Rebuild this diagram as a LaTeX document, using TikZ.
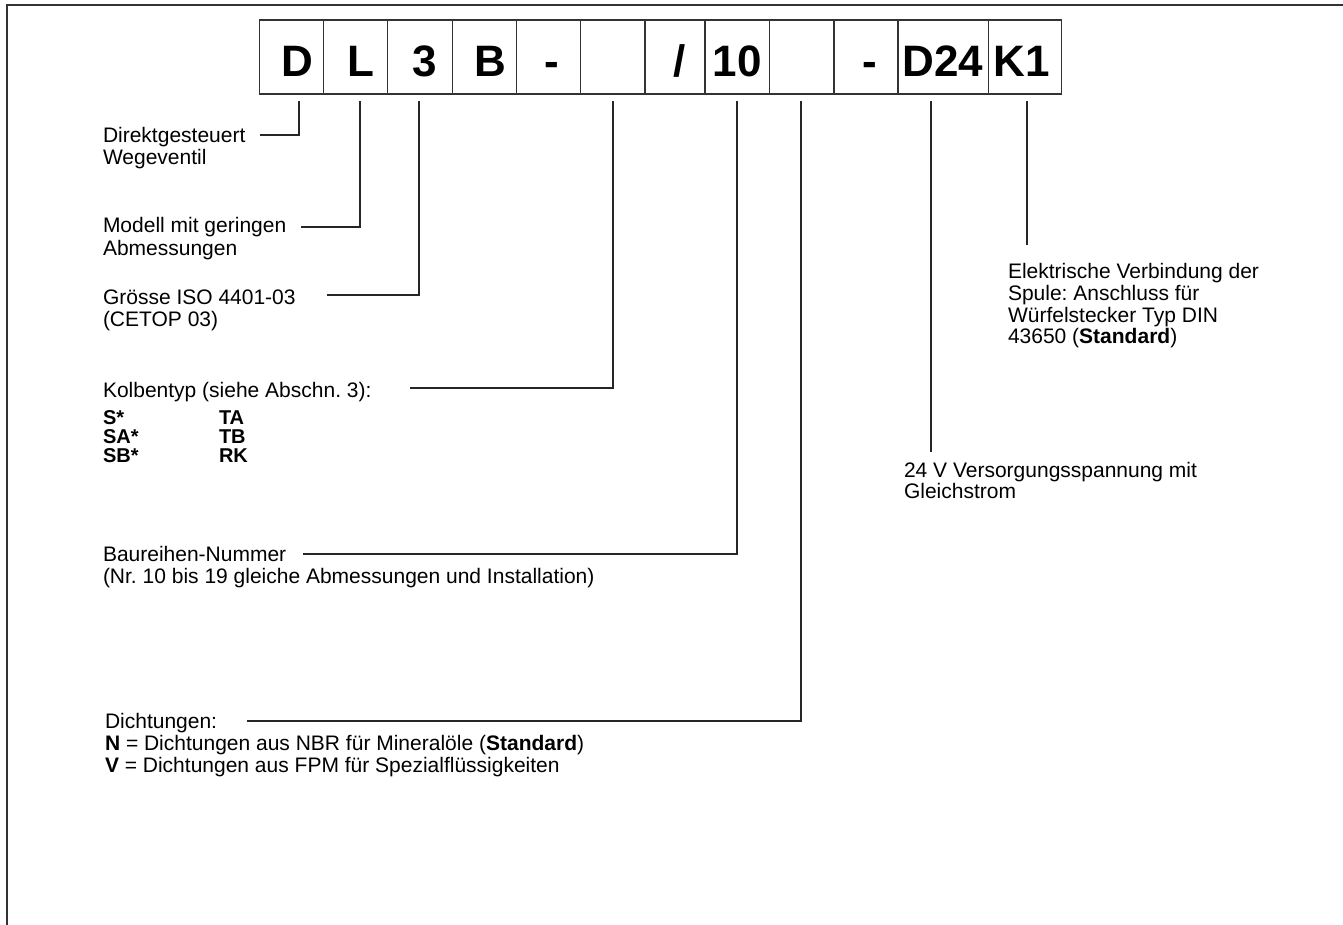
\documentclass[tikz,border=0pt]{standalone}
\usepackage{fontspec}
\setmainfont{Liberation Sans}
\frenchspacing
\begin{document}
\begin{tikzpicture}[x=1pt,y=-1pt,
  every node/.style={inner sep=0pt, outer sep=0pt},
  box/.style={draw=black!80, line width=1.1pt, minimum height=74pt, anchor=north west},
  code/.style={font=\fontsize{44}{44}\selectfont\bfseries, anchor=base},
  lbl/.style={font=\fontsize{21}{22}\selectfont\frenchspacing, anchor=base west},
  kb/.style={font=\fontsize{20}{20}\selectfont\bfseries, anchor=base west},
  conn/.style={draw=black!85, line width=1.1pt},
  frame/.style={draw=black!80, line width=2pt}]
\useasboundingbox (0,0) rectangle (1343,925);
\coordinate (fb) at (7,925);
\coordinate (fc) at (7,5);
\coordinate (fr) at (1343,5);
\draw[frame] (fb) -- (fc) -- (fr);

% code boxes
\node[box, minimum width=64.4pt] (b1) at (259.3,20) {};
\node[box, minimum width=64pt]   (b2) at (323.7,20) {};
\node[box, minimum width=65pt]   (b3) at (387.7,20) {};
\node[box, minimum width=64pt]   (b4) at (452.7,20) {};
\node[box, minimum width=64pt]   (b5) at (516.7,20) {};
\node[box, minimum width=64.3pt] (b6) at (580.7,20) {};
\node[box, minimum width=60pt]   (b7) at (645,20) {};
\node[box, minimum width=64.3pt] (b8) at (705,20) {};
\node[box, minimum width=64.7pt] (b9) at (769.3,20) {};
\node[box, minimum width=64pt]   (b10) at (834,20) {};
\node[box, minimum width=90.3pt] (b11) at (898,20) {};
\node[box, minimum width=73.4pt] (b12) at (988.3,20) {};

\node[code] (tD) at (297,77) {D};
\node[code] (tL) at (361,77) {L};
\node[code] (t3) at (425,77) {3};
\node[code] (tB) at (490,77) {B};
\node[code] (tm1) at (552,77) {-};
\node[code] (tsl) at (680,77) {/};
\node[code] (t10) at (737,77) {10};
\node[code] (tm2) at (870,77) {-};
\node[code] (tD24) at (943,77) {D24};
\node[code] (tK1) at (1022,77) {K1};

% labels
\node[lbl] (l1a) at (103,143) {Direktgesteuert};
\node[lbl] (l1b) at (103,165) {Wegeventil};
\node[lbl] (l2a) at (103,233) {Modell mit geringen};
\node[lbl] (l2b) at (103,255) {Abmessungen};
\node[lbl] (l3a) at (103,304) {Grösse ISO 4401-03};
\node[lbl] (l3b) at (103,326) {(CETOP 03)};
\node[lbl] (l4) at (103,397) {Kolbentyp (siehe Abschn. 3):};
\node[kb] (k1) at (103,424) {S*};
\node[kb] (k2) at (103,443) {SA*};
\node[kb] (k3) at (103,462) {SB*};
\node[kb] (k4) at (219,424) {TA};
\node[kb] (k5) at (219,443) {TB};
\node[kb] (k6) at (219,462) {RK};
\node[lbl] (l5a) at (103,561) {Baureihen-Nummer};
\node[lbl] (l5b) at (103,583) {(Nr. 10 bis 19 gleiche Abmessungen und Installation)};
\node[lbl] (l6a) at (105,728) {Dichtungen:};
\node[lbl] (l6b) at (105,750) {\textbf{N} = Dichtungen aus NBR für Mineralöle (\textbf{Standard})};
\node[lbl] (l6c) at (105,772) {\textbf{V} = Dichtungen aus FPM für Spezialflüssigkeiten};
\node[lbl] (l7a) at (904,477) {24 V Versorgungsspannung mit};
\node[lbl] (l7b) at (904,498) {Gleichstrom};
\node[lbl] (l8a) at (1008,278) {Elektrische Verbindung der};
\node[lbl] (l8b) at (1008,300) {Spule: Anschluss für};
\node[lbl] (l8c) at (1008,322) {Würfelstecker Typ DIN};
\node[lbl] (l8d) at (1008,343) {43650 (\textbf{Standard})};

% connector coordinates
\coordinate (sD) at (299,101);   \coordinate (eD) at (260,135);
\coordinate (sL) at (360,101);   \coordinate (eL) at (301,227);
\coordinate (s3) at (419,101);   \coordinate (e3) at (327,295);
\coordinate (sK) at (613,101);   \coordinate (eK) at (410,388);
\coordinate (s10) at (737,101);  \coordinate (e10) at (303,554);
\coordinate (sN) at (801,101);   \coordinate (eN) at (247,721);
\coordinate (sV) at (931,101);   \coordinate (eV) at (931,452);
\coordinate (sE) at (1027,101);  \coordinate (eE) at (1027,245);

\draw[conn] (sD) |- (eD);
\draw[conn] (sL) |- (eL);
\draw[conn] (s3) |- (e3);
\draw[conn] (sK) |- (eK);
\draw[conn] (s10) |- (e10);
\draw[conn] (sN) |- (eN);
\draw[conn] (sV) -- (eV);
\draw[conn] (sE) -- (eE);
\end{tikzpicture}
\end{document}
